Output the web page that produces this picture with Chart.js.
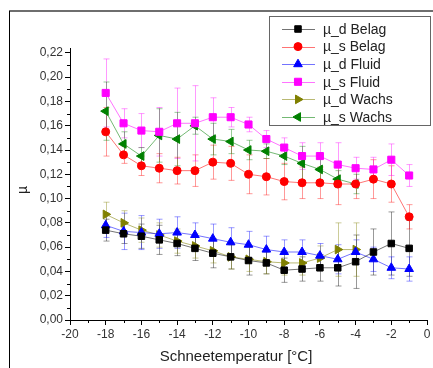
<!DOCTYPE html>
<html>
<head>
<meta charset="utf-8">
<script src="https://cdn.jsdelivr.net/npm/chart.js@4.4.1/dist/chart.umd.min.js"></script>
<style>
  html, body { margin: 0; padding: 0; background: #fff; }
  canvas { display: block; }
</style>
</head>
<body>
<canvas id="chart" width="433" height="368"></canvas>
<script>
// Schneetemperatur in °C
const temps = [-18, -17, -16, -15, -14, -13, -12, -11, -10, -9, -8, -7, -6, -5, -4, -3, -2, -1];

const muDBelag  = [0.074, 0.071, 0.069, 0.066, 0.063, 0.059, 0.055, 0.052, 0.049, 0.047, 0.041, 0.042, 0.043, 0.043, 0.048, 0.056, 0.063, 0.059];
const errDBelag = [0.009, 0.008, 0.010, 0.012, 0.010, 0.010, 0.012, 0.010, 0.012, 0.009, 0.010, 0.010, 0.011, 0.015, 0.022, 0.019, 0.026, 0.023];

const muSBelag  = [0.155, 0.136, 0.127, 0.125, 0.123, 0.123, 0.130, 0.129, 0.120, 0.118, 0.114, 0.113, 0.113, 0.112, 0.112, 0.116, 0.112, 0.085];
const errSBelag = [0.020, 0.007, 0.008, 0.012, 0.011, 0.013, 0.014, 0.014, 0.016, 0.015, 0.015, 0.013, 0.013, 0.017, 0.012, 0.016, 0.015, 0.010];

const muDFluid  = [0.078, 0.073, 0.072, 0.071, 0.072, 0.070, 0.067, 0.064, 0.062, 0.058, 0.056, 0.056, 0.053, 0.050, 0.056, 0.050, 0.043, 0.042];
const errDFluid = [0.010, 0.015, 0.014, 0.012, 0.013, 0.010, 0.012, 0.012, 0.011, 0.011, 0.010, 0.010, 0.010, 0.012, 0.010, 0.010, 0.009, 0.010];

const muSFluid  = [0.187, 0.162, 0.156, 0.155, 0.162, 0.162, 0.167, 0.167, 0.161, 0.149, 0.142, 0.135, 0.135, 0.128, 0.125, 0.124, 0.132, 0.119];
const errSFluid = [0.028, 0.012, 0.014, 0.020, 0.029, 0.031, 0.016, 0.008, 0.006, 0.007, 0.008, 0.011, 0.011, 0.018, 0.009, 0.010, 0.013, 0.009];

// Wachs only measured down to -4 °C
const muDWachs  = [0.087, 0.080, 0.074, 0.070, 0.065, 0.061, 0.057, 0.052, 0.050, 0.048, 0.047, 0.047, 0.051, 0.058, 0.058];
const errDWachs = [0.010, 0.010, 0.010, 0.010, 0.010, 0.010, 0.010, 0.010, 0.010, 0.010, 0.010, 0.010, 0.010, 0.022, 0.022];

const muSWachs  = [0.172, 0.145, 0.135, 0.152, 0.149, 0.160, 0.149, 0.147, 0.140, 0.139, 0.135, 0.129, 0.124, 0.116, 0.112];
const errSWachs = [0.024, 0.010, 0.007, 0.022, 0.022, 0.007, 0.013, 0.010, 0.008, 0.006, 0.007, 0.014, 0.009, 0.007, 0.008];

const xTicks = [-20, -18, -16, -14, -12, -10, -8, -6, -4, -2, 0];
const yTicks = [0, 0.02, 0.04, 0.06, 0.08, 0.10, 0.12, 0.14, 0.16, 0.18, 0.20, 0.22];

const FONT = '"Liberation Sans", Arial, sans-serif';

function pts(vals) {
    return vals.map((v, i) => ({ x: temps[i], y: v }));
}

function series(label, vals, errs, rgb, style, radius, rotation) {
    return {
        label: label,
        data: pts(vals),
        errors: errs,
        errColor: `rgba(${rgb}, 0.4)`,
        borderColor: `rgba(${rgb}, 0.55)`,
        backgroundColor: `rgb(${rgb})`,
        pointBackgroundColor: `rgb(${rgb})`,
        pointBorderColor: `rgb(${rgb})`,
        pointBorderWidth: 1,
        pointStyle: style,
        pointRadius: radius,
        rotation: rotation || 0,
        borderWidth: 1,
        tension: 0,
        fill: false
    };
}

// error bars, drawn behind the lines and markers
const errorBars = {
    id: 'errorBars',
    beforeDatasetsDraw(chart) {
        const ctx = chart.ctx;
        const xs = chart.scales.x;
        const ys = chart.scales.y;
        chart.data.datasets.forEach(ds => {
            ctx.save();
            ctx.strokeStyle = ds.errColor;
            ctx.lineWidth = 1;
            ds.data.forEach((p, i) => {
                const e = ds.errors[i];
                const x = Math.round(xs.getPixelForValue(p.x)) + 0.5;
                const top = ys.getPixelForValue(p.y + e);
                const bot = ys.getPixelForValue(p.y - e);
                ctx.beginPath();
                ctx.moveTo(x, top);
                ctx.lineTo(x, bot);
                ctx.moveTo(x - 3, top);
                ctx.lineTo(x + 3, top);
                ctx.moveTo(x - 3, bot);
                ctx.lineTo(x + 3, bot);
                ctx.stroke();
            });
            ctx.restore();
        });
    }
};

// window frame, minor ticks, axis titles and the boxed legend
const decorations = {
    id: 'decorations',
    afterDraw(chart) {
        const ctx = chart.ctx;
        const xs = chart.scales.x;
        const ys = chart.scales.y;
        const area = chart.chartArea;
        ctx.save();

        ctx.strokeStyle = '#6e6e6e';
        ctx.lineWidth = 2;
        ctx.beginPath();
        ctx.moveTo(9, 11);
        ctx.lineTo(433, 11);
        ctx.stroke();
        ctx.strokeStyle = '#000';
        ctx.lineWidth = 1;
        ctx.beginPath();
        ctx.moveTo(9.5, 11);
        ctx.lineTo(9.5, 368);
        ctx.stroke();

        // minor ticks
        ctx.strokeStyle = '#000';
        ctx.beginPath();
        for (let v = 0.01; v < 0.224; v += 0.02) {
            const y = Math.round(ys.getPixelForValue(v)) + 0.5;
            ctx.moveTo(area.left - 3, y);
            ctx.lineTo(area.left, y);
        }
        for (let t = -19; t < 0; t += 2) {
            const x = Math.round(xs.getPixelForValue(t)) + 0.5;
            ctx.moveTo(x, area.bottom);
            ctx.lineTo(x, area.bottom + 3);
        }
        ctx.stroke();

        // axis titles
        ctx.fillStyle = '#222';
        ctx.font = '15px ' + FONT;
        ctx.textAlign = 'center';
        ctx.textBaseline = 'middle';
        ctx.fillText('Schneetemperatur [°C]', 236, 357);
        ctx.save();
        ctx.translate(23, 190);
        ctx.rotate(-Math.PI / 2);
        ctx.font = '14px ' + FONT;
        ctx.fillText('µ', 0, 0);
        ctx.restore();

        // legend
        ctx.fillStyle = '#fff';
        ctx.fillRect(269, 16, 164, 109);
        ctx.strokeStyle = '#666';
        ctx.lineWidth = 1;
        ctx.strokeRect(269.5, 16.5, 161, 109);
        ctx.font = '14px ' + FONT;
        ctx.textAlign = 'left';
        chart.data.datasets.forEach((ds, i) => {
            const y = 29 + i * 17.6;
            ctx.strokeStyle = ds.borderColor;
            ctx.beginPath();
            ctx.moveTo(282, Math.round(y) + 0.5);
            ctx.lineTo(315, Math.round(y) + 0.5);
            ctx.stroke();
            ctx.fillStyle = ds.pointBackgroundColor;
            ctx.strokeStyle = ds.pointBorderColor;
            Chart.helpers.drawPoint(ctx, {
                pointStyle: ds.pointStyle,
                rotation: ds.rotation,
                radius: ds.pointRadius,
                borderWidth: 1
            }, 298, y);
            ctx.fillStyle = '#222';
            ctx.fillText(ds.label, 323, y + 1);
        });

        ctx.restore();
    }
};

new Chart(document.getElementById('chart'), {
    type: 'line',
    data: {
        datasets: [
            series('µ_d Belag', muDBelag, errDBelag, '0, 0, 0', 'rect', 4.6),
            series('µ_s Belag', muSBelag, errSBelag, '255, 0, 0', 'circle', 4),
            series('µ_d Fluid', muDFluid, errDFluid, '0, 0, 255', 'triangle', 5),
            series('µ_s Fluid', muSFluid, errSFluid, '255, 0, 255', 'rect', 5),
            series('µ_d Wachs', muDWachs, errDWachs, '128, 128, 0', 'triangle', 5, 90),
            series('µ_s Wachs', muSWachs, errSWachs, '0, 128, 0', 'triangle', 5, -90)
        ]
    },
    options: {
        responsive: false,
        animation: false,
        layout: { padding: { top: 48, right: 3, left: 10, bottom: 0 } },
        plugins: {
            legend: { display: false },
            tooltip: { enabled: false }
        },
        scales: {
            x: {
                type: 'linear',
                min: -20,
                max: 0,
                afterFit: s => { s.height = 48; },
                afterBuildTicks: s => { s.ticks = xTicks.map(v => ({ value: v })); },
                ticks: {
                    color: '#333',
                    font: { family: FONT, size: 12 },
                    padding: 2,
                    maxRotation: 0,
                    callback: v => String(v)
                },
                grid: {
                    drawOnChartArea: false,
                    drawTicks: true,
                    tickLength: 5,
                    tickColor: '#000'
                },
                border: { display: true, color: '#000', width: 1 }
            },
            y: {
                min: 0,
                max: 0.224,
                afterFit: s => { s.width = 60; },
                afterBuildTicks: s => { s.ticks = yTicks.map(v => ({ value: v })); },
                ticks: {
                    color: '#333',
                    font: { family: FONT, size: 12 },
                    padding: 2,
                    callback: v => v.toFixed(2).replace('.', ',')
                },
                grid: {
                    drawOnChartArea: false,
                    drawTicks: true,
                    tickLength: 5,
                    tickColor: '#000'
                },
                border: { display: true, color: '#000', width: 1 }
            }
        }
    },
    plugins: [errorBars, decorations]
});
</script>
</body>
</html>
